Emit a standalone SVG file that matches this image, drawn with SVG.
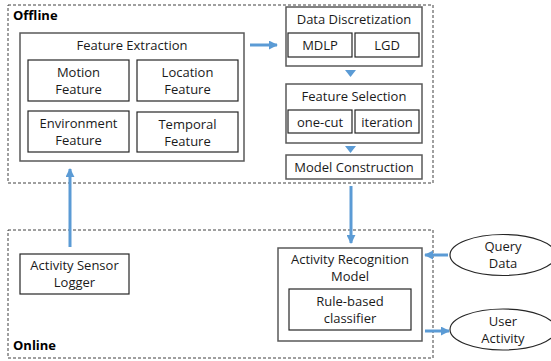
<svg xmlns="http://www.w3.org/2000/svg" width="551" height="361" viewBox="0 0 551 361">
<defs>
<marker id="ah" viewBox="0 0 10 10" refX="9" refY="5" markerWidth="3" markerHeight="3" orient="auto" markerUnits="strokeWidth">
<path d="M0,0 L10,5 L0,10 Z" fill="#5b9bd5"/>
</marker>
</defs>
<style>
.t{font-family:"Open Sans","Liberation Sans",sans-serif;font-size:13px;fill:#1a1a1a;text-anchor:middle}
.lb{font-family:"Open Sans","Liberation Sans",sans-serif;font-size:13px;font-weight:bold;fill:#000}
.zone{fill:none;stroke:#404040;stroke-width:1;stroke-dasharray:3,2}
.outer{fill:#fff;stroke:#595959;stroke-width:1.5}
.inner{fill:#fff;stroke:#262626;stroke-width:1.2}
.ell{fill:#fff;stroke:#262626;stroke-width:1.2}
.ar{fill:none;stroke:#5b9bd5;stroke-width:3;marker-end:url(#ah)}
.tri{fill:#5b9bd5}
</style>
<rect width="551" height="361" fill="#fff"/>
<g id="offline">
<rect class="zone" x="8" y="5" width="425" height="178"/>
<text class="lb" x="13" y="20">Offline</text>
</g>
<g id="online">
<rect class="zone" x="8" y="230" width="425" height="128"/>
<text class="lb" x="13" y="350">Online</text>
</g>
<g id="feature-extraction">
<rect class="outer" x="20" y="33" width="224" height="128"/>
<text class="t" x="132" y="50">Feature Extraction</text>
</g>
<g id="motion-feature">
<rect class="inner" x="28" y="60" width="101" height="41"/>
<text class="t" x="78.5" y="77">Motion</text>
<text class="t" x="78.5" y="94">Feature</text>
</g>
<g id="location-feature">
<rect class="inner" x="137" y="60" width="101" height="41"/>
<text class="t" x="187.5" y="77">Location</text>
<text class="t" x="187.5" y="94">Feature</text>
</g>
<g id="environment-feature">
<rect class="inner" x="28" y="111" width="101" height="41"/>
<text class="t" x="78.5" y="128">Environment</text>
<text class="t" x="78.5" y="145">Feature</text>
</g>
<g id="temporal-feature">
<rect class="inner" x="137" y="112" width="101" height="40"/>
<text class="t" x="187.5" y="129">Temporal</text>
<text class="t" x="187.5" y="146">Feature</text>
</g>
<g id="data-discretization">
<rect class="outer" x="286" y="7" width="136" height="59"/>
<text class="t" x="354" y="24">Data Discretization</text>
</g>
<g id="mdlp">
<rect class="inner" x="288" y="33" width="64" height="24"/>
<text class="t" x="320" y="50">MDLP</text>
</g>
<g id="lgd">
<rect class="inner" x="355" y="33" width="64" height="24"/>
<text class="t" x="387" y="50">LGD</text>
</g>
<g id="feature-selection">
<rect class="outer" x="286" y="84" width="136" height="59"/>
<text class="t" x="354" y="101">Feature Selection</text>
</g>
<g id="one-cut">
<rect class="inner" x="288" y="110" width="64" height="23"/>
<text class="t" x="320" y="127">one-cut</text>
</g>
<g id="iteration">
<rect class="inner" x="355" y="110" width="64" height="23"/>
<text class="t" x="387" y="127">iteration</text>
</g>
<g id="model-construction">
<rect class="outer" x="286" y="155" width="136" height="24"/>
<text class="t" x="354" y="172">Model Construction</text>
</g>
<g id="activity-sensor-logger">
<rect class="inner" x="20" y="254" width="109" height="40"/>
<text class="t" x="74.5" y="270">Activity Sensor</text>
<text class="t" x="74.5" y="287">Logger</text>
</g>
<g id="activity-recognition-model">
<rect class="outer" x="278" y="248" width="144" height="93"/>
<text class="t" x="350" y="264">Activity Recognition</text>
<text class="t" x="350" y="281">Model</text>
</g>
<g id="rule-based-classifier">
<rect class="inner" x="289" y="289" width="122" height="41"/>
<text class="t" x="350" y="306">Rule-based</text>
<text class="t" x="350" y="323">classifier</text>
</g>
<g id="query-data">
<ellipse class="ell" cx="503" cy="255" rx="53" ry="20.5"/>
<text class="t" x="503" y="251">Query</text>
<text class="t" x="503" y="268">Data</text>
</g>
<g id="user-activity">
<ellipse class="ell" cx="503" cy="329.5" rx="53" ry="20.5"/>
<text class="t" x="503" y="326">User</text>
<text class="t" x="503" y="343">Activity</text>
</g>
<g id="connectors">
<line class="ar" x1="250" y1="45" x2="277" y2="45"/>
<path class="tri" d="M345,70 L356,70 L350.5,77 Z"/>
<path class="tri" d="M345,146 L356,146 L350.5,153 Z"/>
<line class="ar" x1="351" y1="186" x2="351" y2="243"/>
<line class="ar" x1="70" y1="247" x2="70" y2="169"/>
<line class="ar" x1="448" y1="255" x2="425" y2="255"/>
<line class="ar" x1="425" y1="331" x2="449" y2="331"/>
</g>
</svg>
